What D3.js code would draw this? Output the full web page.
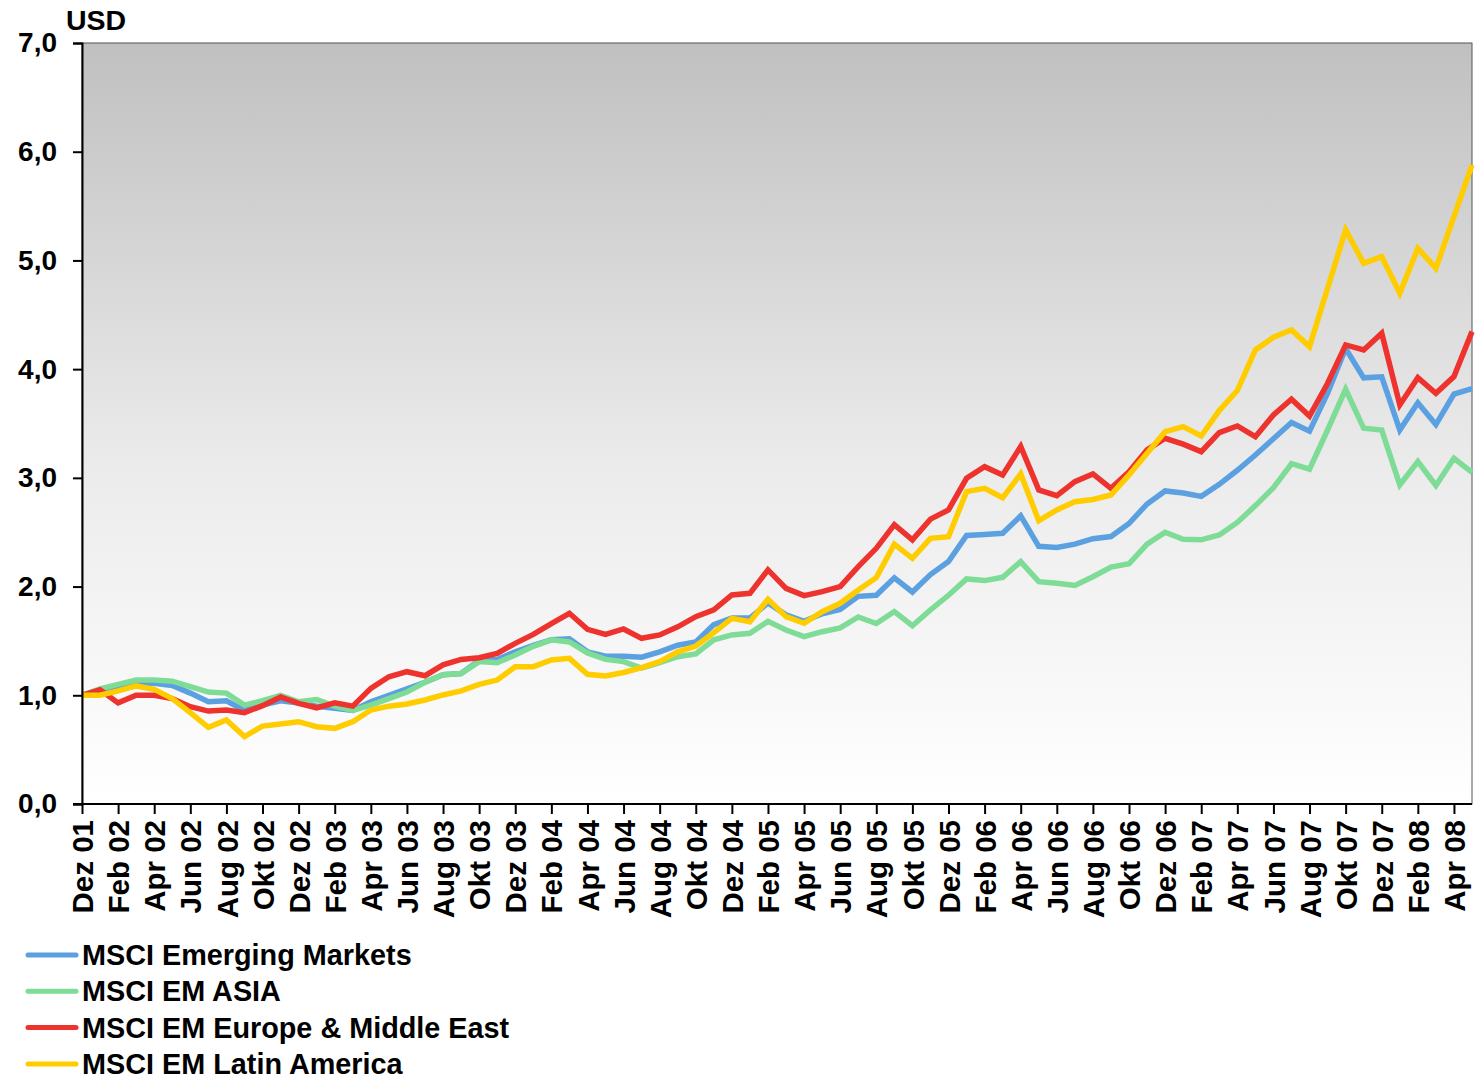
<!DOCTYPE html>
<html><head><meta charset="utf-8">
<script src="https://cdn.jsdelivr.net/npm/d3@7"></script>
<style>body{margin:0;background:#fff}text{font-family:"Liberation Sans",Arial,sans-serif;font-weight:bold;fill:#000}</style>
</head><body>
<svg id="c" width="1475" height="1079"></svg>
<script>
const categories = ["Dez 01","Jan 02","Feb 02","Mär 02","Apr 02","Mai 02","Jun 02","Jul 02","Aug 02","Sep 02","Okt 02","Nov 02",
"Dez 02","Jan 03","Feb 03","Mär 03","Apr 03","Mai 03","Jun 03","Jul 03","Aug 03","Sep 03","Okt 03","Nov 03",
"Dez 03","Jan 04","Feb 04","Mär 04","Apr 04","Mai 04","Jun 04","Jul 04","Aug 04","Sep 04","Okt 04","Nov 04",
"Dez 04","Jan 05","Feb 05","Mär 05","Apr 05","Mai 05","Jun 05","Jul 05","Aug 05","Sep 05","Okt 05","Nov 05",
"Dez 05","Jan 06","Feb 06","Mär 06","Apr 06","Mai 06","Jun 06","Jul 06","Aug 06","Sep 06","Okt 06","Nov 06",
"Dez 06","Jan 07","Feb 07","Mär 07","Apr 07","Mai 07","Jun 07","Jul 07","Aug 07","Sep 07","Okt 07","Nov 07",
"Dez 07","Jan 08","Feb 08","Mär 08","Apr 08","Mai 08"];
const tickLabels = ["Dez 01","Feb 02","Apr 02","Jun 02","Aug 02","Okt 02","Dez 02","Feb 03","Apr 03","Jun 03","Aug 03","Okt 03",
"Dez 03","Feb 04","Apr 04","Jun 04","Aug 04","Okt 04","Dez 04","Feb 05","Apr 05","Jun 05","Aug 05","Okt 05",
"Dez 05","Feb 06","Apr 06","Jun 06","Aug 06","Okt 06","Dez 06","Feb 07","Apr 07","Jun 07","Aug 07","Okt 07",
"Dez 07","Feb 08","Apr 08"];
const yTicks = [0,1,2,3,4,5,6,7];
const seriesNames = ["MSCI Emerging Markets","MSCI EM ASIA","MSCI EM Europe & Middle East","MSCI EM Latin America"];
const seriesColors = ["#5ba0e0","#7edc96","#ee322d","#ffcc00"];
const emergingMarkets = [1.00,1.04,1.08,1.11,1.11,1.09,1.02,0.94,0.95,0.86,0.91,0.95,
0.93,0.90,0.88,0.86,0.94,1.00,1.06,1.12,1.19,1.20,1.32,1.33,
1.40,1.46,1.51,1.52,1.40,1.36,1.36,1.35,1.40,1.46,1.49,1.65,
1.71,1.71,1.85,1.74,1.68,1.75,1.79,1.91,1.92,2.08,1.95,2.11,
2.23,2.47,2.48,2.49,2.65,2.37,2.36,2.39,2.44,2.46,2.58,2.76,
2.88,2.86,2.83,2.94,3.07,3.21,3.36,3.51,3.43,3.78,4.19,3.92,
3.93,3.44,3.69,3.49,3.77,3.82];
const emAsia = [1.00,1.06,1.10,1.14,1.14,1.13,1.08,1.03,1.02,0.91,0.95,1.00,
0.94,0.96,0.90,0.86,0.91,0.97,1.03,1.12,1.19,1.20,1.31,1.30,
1.37,1.45,1.51,1.49,1.39,1.33,1.31,1.25,1.30,1.355,1.38,1.51,
1.555,1.57,1.68,1.60,1.54,1.585,1.62,1.72,1.66,1.77,1.64,1.785,
1.92,2.07,2.055,2.085,2.23,2.045,2.03,2.01,2.09,2.18,2.21,2.39,
2.50,2.435,2.43,2.475,2.59,2.745,2.91,3.13,3.08,3.44,3.815,3.456,
3.44,2.935,3.15,2.93,3.18,3.05];
const emEurope = [1.00,1.05,0.93,1.00,1.00,0.97,0.895,0.855,0.865,0.84,0.905,0.985,
0.925,0.885,0.93,0.90,1.064,1.17,1.217,1.18,1.28,1.33,1.346,1.386,
1.478,1.56,1.66,1.754,1.607,1.56,1.61,1.524,1.555,1.63,1.723,1.785,
1.923,1.938,2.153,1.984,1.917,1.953,2.00,2.183,2.352,2.57,2.43,2.62,
2.705,2.996,3.103,3.027,3.288,2.889,2.837,2.965,3.036,2.904,3.057,3.257,
3.364,3.31,3.241,3.416,3.477,3.379,3.579,3.723,3.569,3.87,4.223,4.177,
4.33,3.671,3.922,3.778,3.931,4.345];
const emLatAm = [1.00,1.00,1.04,1.086,1.055,0.97,0.84,0.705,0.773,0.62,0.717,0.736,
0.757,0.711,0.696,0.757,0.865,0.90,0.92,0.957,1.003,1.04,1.10,1.14,
1.263,1.263,1.325,1.34,1.193,1.178,1.21,1.254,1.31,1.40,1.453,1.576,
1.708,1.677,1.883,1.723,1.662,1.769,1.846,1.969,2.082,2.39,2.26,2.444,
2.459,2.873,2.904,2.818,3.036,2.606,2.705,2.781,2.801,2.843,3.027,3.226,
3.425,3.471,3.385,3.619,3.803,4.177,4.293,4.361,4.207,4.744,5.281,4.974,
5.035,4.698,5.112,4.928,5.403,5.879];
const seriesValues = [emergingMarkets, emAsia, emEurope, emLatAm];

const svg = d3.select("#c");
const L = 82, R = 1472, T = 43, B = 804;
const x = d3.scaleLinear().domain([0, categories.length - 1]).range([L, R]);
const y = d3.scaleLinear().domain([0, 7]).range([B, T]);

const defs = svg.append("defs");
const g = defs.append("linearGradient").attr("id","bg").attr("x1",0).attr("y1",0).attr("x2",0).attr("y2",1);
g.append("stop").attr("offset","0%").attr("stop-color","#c0c0c0");
g.append("stop").attr("offset","55%").attr("stop-color","#ebebeb");
g.append("stop").attr("offset","100%").attr("stop-color","#ffffff");
svg.append("rect").attr("x",L).attr("y",T).attr("width",R-L).attr("height",B-T).attr("fill","url(#bg)")
  .attr("stroke","#555").attr("stroke-width",1);

const line = d3.line().x((d,i)=>x(i)).y(d=>y(d));
seriesValues.forEach((vals,k)=>{
  svg.append("path").datum(vals).attr("d",line).attr("fill","none")
    .attr("stroke",seriesColors[k]).attr("stroke-width",5.5).attr("stroke-linejoin","miter").attr("stroke-miterlimit",3);
});

// Y axis
const yAxis = d3.axisLeft(y).tickValues(yTicks).tickSize(9).tickFormat(d=>d3.format(".1f")(d).replace(".",","));
const ya = svg.append("g").attr("transform",`translate(${L},0)`).call(yAxis);
ya.select(".domain").attr("stroke","#000").attr("stroke-width",2);
ya.selectAll(".tick line").attr("stroke","#000").attr("stroke-width",2);
ya.selectAll(".tick text").attr("x",-25).attr("font-size",28).attr("font-weight","bold")
  .attr("font-family","Liberation Sans, Arial, sans-serif").attr("fill","#000");

// X axis
const tickIdx = tickLabels.map(t=>categories.indexOf(t));
const xAxis = d3.axisBottom(x).tickValues(tickIdx).tickSize(10).tickFormat(i=>categories[i]);
const xa = svg.append("g").attr("transform",`translate(0,${B})`).call(xAxis);
xa.select(".domain").attr("stroke","#000").attr("stroke-width",2).attr("d",`M${L-9},0H${R}`);
xa.selectAll(".tick line").attr("stroke","#000").attr("stroke-width",2);
xa.selectAll(".tick text").attr("font-size",29.5).attr("font-weight","bold")
  .attr("font-family","Liberation Sans, Arial, sans-serif").attr("fill","#000")
  .attr("text-anchor","end").attr("transform","rotate(-90)").attr("x",-16).attr("y",0).attr("dy","0.36em");

svg.append("text").attr("x",66).attr("y",30).attr("font-size",28.5).text("USD");

// Legend
const lg = svg.append("g");
seriesNames.forEach((n,k)=>{
  const ly = 955 + k*36.3;
  lg.append("line").attr("x1",28).attr("x2",76).attr("y1",ly).attr("y2",ly)
    .attr("stroke",seriesColors[k]).attr("stroke-width",5).attr("stroke-linecap","round");
  lg.append("text").attr("x",82).attr("y",ly+10).attr("font-size",28.8).text(n);
});
</script>
</body></html>
